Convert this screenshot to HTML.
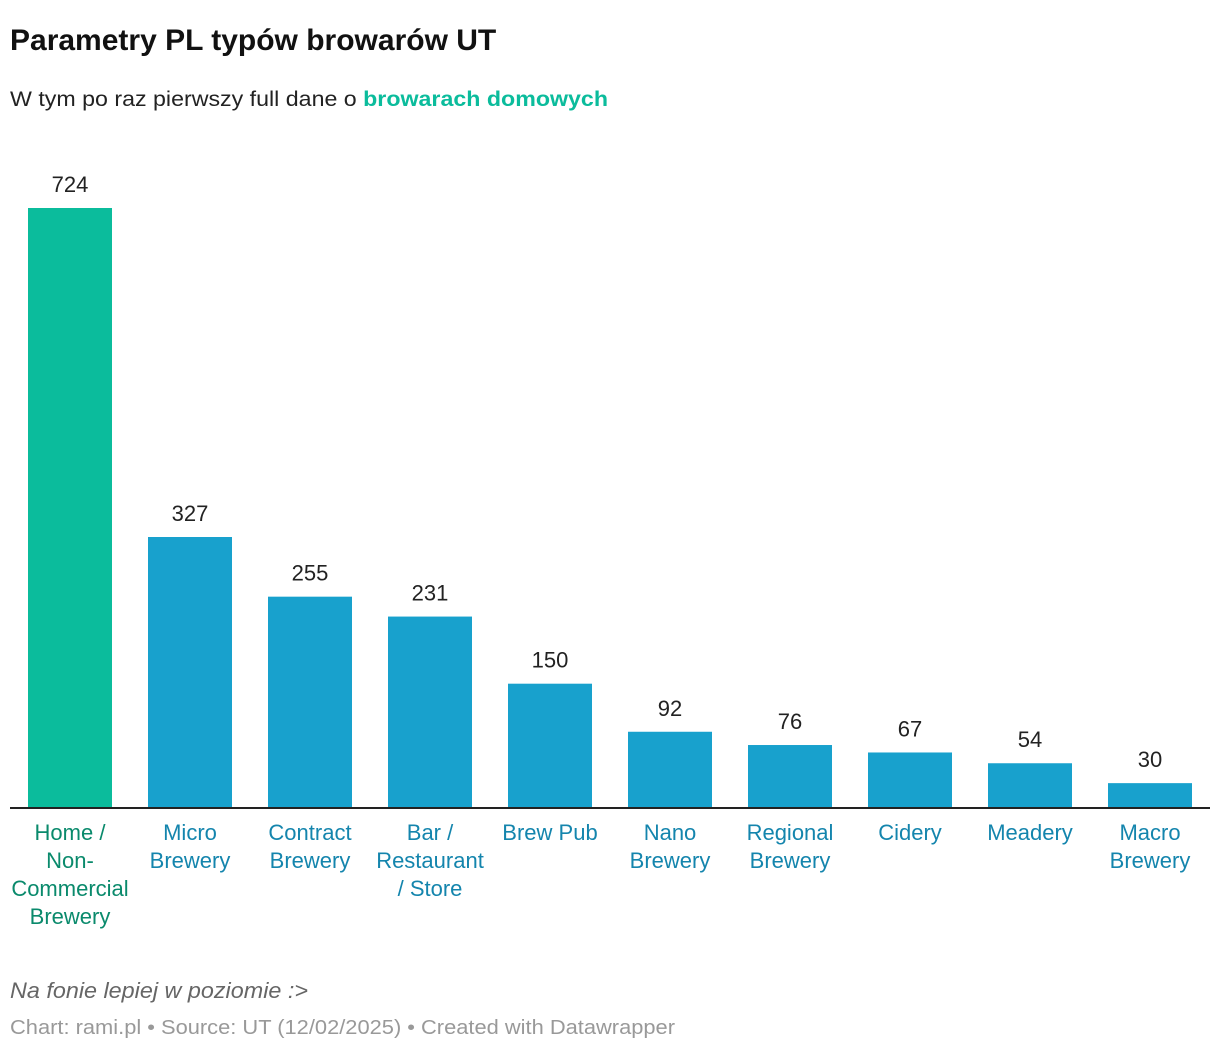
<!DOCTYPE html>
<html><head><meta charset="utf-8"><style>
body{margin:0;background:#fff;font-family:"Liberation Sans",sans-serif;}
svg{display:block}
</style></head><body>
<svg width="1220" height="1050">
<text x="10" y="50" font-size="30" font-weight="bold" fill="#111">Parametry PL typów browarów UT</text>
<text x="10" y="106" font-size="21" fill="#222" textLength="598" lengthAdjust="spacingAndGlyphs">W tym po raz pierwszy full dane o <tspan fill="#0bbc9c" font-weight="bold">browarach domowych</tspan></text>
<g id="bars"></g>
<line x1="10" x2="1210" y1="808" y2="808" stroke="#222" stroke-width="2"/>
<text x="10" y="998" font-size="22" font-style="italic" fill="#666" textLength="298" lengthAdjust="spacingAndGlyphs">Na fonie lepiej w poziomie :&gt;</text>
<text x="10" y="1034" font-size="20" fill="#999" textLength="665" lengthAdjust="spacingAndGlyphs">Chart: rami.pl • Source: UT (12/02/2025) • Created with Datawrapper</text>
</svg>
<script>
const categories=[["Home /","Non-","Commercial","Brewery"],["Micro","Brewery"],["Contract","Brewery"],["Bar /","Restaurant","/ Store"],["Brew Pub"],["Nano","Brewery"],["Regional","Brewery"],["Cidery"],["Meadery"],["Macro","Brewery"]];
const values=[724,327,255,231,150,92,76,67,54,30];
const highlight=[true,false,false,false,false,false,false,false,false,false];
const NS="http://www.w3.org/2000/svg";
const g=document.getElementById('bars');
const base=808,scale=600/724;
const y=v=>base-v*scale;
const xc=i=>70+i*120;
values.forEach((v,i)=>{
  const r=document.createElementNS(NS,'rect');
  r.setAttribute('x',xc(i)-42);r.setAttribute('width',84);
  r.setAttribute('y',y(v));r.setAttribute('height',base-y(v));
  r.setAttribute('fill',highlight[i]?'#0bbc9c':'#18a1cd');
  
  
  g.appendChild(r);
  const t=document.createElementNS(NS,'text');
  t.setAttribute('x',xc(i));t.setAttribute('y',y(v)-16);
  t.setAttribute('text-anchor','middle');t.setAttribute('font-size','22');t.setAttribute('fill','#222');
  t.textContent=v;
  
  
  g.appendChild(t);
  const l=document.createElementNS(NS,'text');
  l.setAttribute('text-anchor','middle');l.setAttribute('font-size','22');
  l.setAttribute('fill',highlight[i]?'#0a8a6c':'#1485ad');
  
  
  categories[i].forEach((s,k)=>{
    const ts=document.createElementNS(NS,'tspan');
    ts.setAttribute('x',xc(i));ts.setAttribute('y',840+k*28);
    ts.textContent=s;l.appendChild(ts);
  });
  g.appendChild(l);
});
</script>
</body></html>
